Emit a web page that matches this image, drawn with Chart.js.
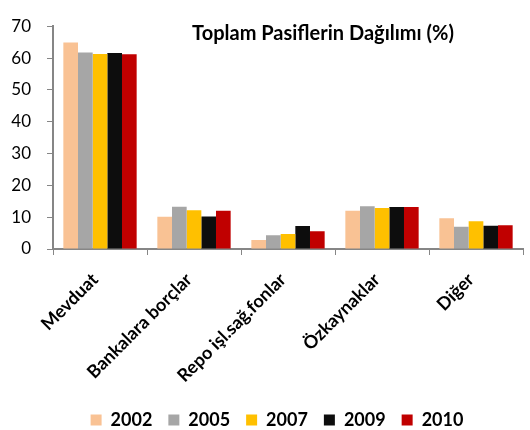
<!DOCTYPE html>
<html><head><meta charset="utf-8">
<script src="https://cdn.jsdelivr.net/npm/chart.js@4"></script>
<style>html,body{margin:0;padding:0;background:#fff}#wrap{width:530px;height:430px}</style>
</head><body><div id="wrap"><canvas id="c" width="530" height="430"></canvas></div>
<script>
const categories = ["Mevduat","Bankalara borçlar","Repo işl.sağ.fonlar","Özkaynaklar","Diğer"];
const years = ["2002","2005","2007","2009","2010"];
const v2002 = [64.9, 10.1, 2.8, 12.0, 9.7];
const v2005 = [61.7, 13.3, 4.3, 13.4, 7.0];
const v2007 = [61.3, 12.2, 4.7, 12.9, 8.7];
const v2009 = [61.6, 10.2, 7.2, 13.2, 7.3];
const v2010 = [61.2, 12.0, 5.6, 13.2, 7.5];
const yTicks = [0,10,20,30,40,50,60,70];
const titleText = "Toplam Pasiflerin Dağılımı (%)";
const colors = ["#F9C294","#A6A6A6","#FFC000","#0D0D0D","#C00000"];
const series = [v2002,v2005,v2007,v2009,v2010];
const FONT = "Lato";
const titlePlugin = {
  id:'inTitle',
  afterLayout(chart){
    const lg = chart.legend;
    if (lg) { lg.left += 10; lg.right += 10; lg.top += 9; lg.bottom += 9; }
  },
  afterDraw(chart){
    const {ctx} = chart;
    ctx.save();
    ctx.font = "bold 20px " + FONT;
    ctx.fillStyle = "#000";
    ctx.textAlign = "center";
    ctx.textBaseline = "middle";
    ctx.fillText(titleText, 323, 34);
    ctx.restore();
  }
};
new Chart(document.getElementById('c'), {
  type:'bar',
  data:{
    labels:categories,
    datasets: years.map((y,i)=>({label:y, data:series[i], backgroundColor:colors[i], borderWidth:0}))
  },
  options:{
    responsive:false, animation:false,
    layout:{padding:{top:10,right:7,left:11,bottom:0}},
    datasets:{bar:{categoryPercentage:0.78, barPercentage:1.0}},
    scales:{
      x:{
        grid:{display:true, drawOnChartArea:false, offset:true, color:"#868686", tickLength:6, lineWidth:1},
        border:{display:true, color:"#868686", width:2},
        ticks:{color:"#000", font:{family:FONT, size:18, weight:"bold"}, minRotation:45, maxRotation:45, padding:14, labelOffset:-5},
        afterFit(axis){ axis.height = 137; axis.paddingLeft = 0; axis.paddingRight = 0; }
      },
      y:{
        min:0, max:70,
        afterBuildTicks(axis){ axis.ticks = yTicks.map(v=>({value:v})); },
        grid:{display:true, drawOnChartArea:false, color:"#868686", tickLength:6},
        border:{display:true, color:"#868686", width:2},
        ticks:{color:"#000", font:{family:FONT, size:17}, padding:16},
        afterFit(axis){ axis.width = 42; }
      }
    },
    plugins:{
      legend:{position:'bottom', labels:{boxWidth:11, boxHeight:11, font:{family:FONT, size:18, weight:"bold"}, color:"#000", padding:16}},
      tooltip:{enabled:false}
    }
  },
  plugins:[titlePlugin]
});
</script></body></html>
